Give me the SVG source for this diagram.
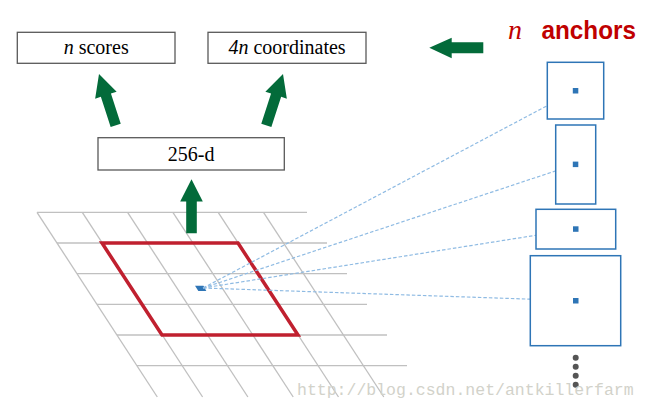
<svg xmlns="http://www.w3.org/2000/svg" width="647" height="410" viewBox="0 0 647 410">
<defs>
<style>
.box{fill:#fff;stroke:#595959;stroke-width:1.3}
.lbl{font-family:Liberation Serif;font-size:20px;fill:#000;text-anchor:middle}
.grid{stroke:#c0c0c0;stroke-width:1.3;fill:none}
.anc{fill:#fff;stroke:#2e75b6;stroke-width:1.5}
.dot{fill:#2e75b6}
.dash{stroke:#8fbbe3;stroke-width:1.2;stroke-dasharray:3.5 2;fill:none}
.garrow{fill:#036b3a}
</style>
<path id="uparrow" d="M0,0 L11.3,22.3 L5.3,22.3 L5.3,54 L-5.3,54 L-5.3,22.3 L-11.3,22.3 Z"/>
</defs>
<rect width="647" height="410" fill="#fff"/>

<g id="grid">
<line class="grid" x1="37" y1="212.3" x2="307" y2="212.3"/>
<line class="grid" x1="57" y1="243" x2="327" y2="243"/>
<line class="grid" x1="77" y1="273.7" x2="347" y2="273.7"/>
<line class="grid" x1="97" y1="304.3" x2="367" y2="304.3"/>
<line class="grid" x1="117" y1="335" x2="387" y2="335"/>
<line class="grid" x1="137" y1="365.7" x2="407" y2="365.7"/>
<line class="grid" x1="37" y1="212.3" x2="157.3" y2="397"/>
<line class="grid" x1="82.3" y1="212.3" x2="202.6" y2="397"/>
<line class="grid" x1="127.6" y1="212.3" x2="247.9" y2="397"/>
<line class="grid" x1="172.9" y1="212.3" x2="293.2" y2="397"/>
<line class="grid" x1="218.2" y1="212.3" x2="338.5" y2="397"/>
<line class="grid" x1="263.5" y1="212.3" x2="383.8" y2="397"/>
</g>

<g id="window">
<polygon points="102,243 238,243 298,335 162,335" fill="none" stroke="#c0202f" stroke-width="3.5" stroke-linejoin="miter"/>
<polygon points="195,285.8 203.5,285.8 206.3,291 198.3,291" class="dot"/>
</g>

<g id="connectors">
<line class="dash" x1="203" y1="288" x2="575.5" y2="90.7"/>
<line class="dash" x1="203" y1="288" x2="575.5" y2="164.3"/>
<line class="dash" x1="203" y1="288" x2="575.5" y2="229"/>
<line class="dash" x1="203" y1="288" x2="575.5" y2="300.7"/>
<use href="#uparrow" class="garrow" transform="translate(191.5,179.3)"/>
<use href="#uparrow" class="garrow" transform="translate(99,74) rotate(-18)"/>
<use href="#uparrow" class="garrow" transform="translate(283,74) rotate(18)"/>
<path class="garrow" d="M429.3,47.7 L451.7,37.7 L451.7,42.3 L483.3,42.3 L483.3,53.3 L451.7,53.3 L451.7,58.3 Z"/>
</g>

<g id="scores">
<rect class="box" x="17.3" y="32.3" width="157.7" height="31"/>
<text class="lbl" x="96.2" y="54"><tspan font-style="italic">n</tspan> scores</text>
</g>
<g id="coords">
<rect class="box" x="208" y="32.3" width="158" height="31"/>
<text class="lbl" x="287" y="54"><tspan font-style="italic">4n</tspan> coordinates</text>
</g>
<g id="feat">
<rect class="box" x="98" y="137.7" width="186.3" height="32.3"/>
<text class="lbl" x="191.2" y="161">256-d</text>
</g>

<g id="anchors-title">
<text x="508" y="39" fill="#c00000" font-family="Liberation Serif" font-style="italic" font-size="28">n</text>
<text x="541.5" y="39" fill="#c00000" font-family="Liberation Sans" font-weight="bold" font-size="25" textLength="94.5" lengthAdjust="spacingAndGlyphs">anchors</text>
</g>

<g id="anchor1">
<rect class="anc" x="547.3" y="62.3" width="56.4" height="56.7"/>
<rect class="dot" x="572.8" y="88" width="5.5" height="5.5"/>
</g>
<g id="anchor2">
<rect class="anc" x="555.7" y="125" width="40" height="79"/>
<rect class="dot" x="572.8" y="161.6" width="5.5" height="5.5"/>
</g>
<g id="anchor3">
<rect class="anc" x="536" y="209.3" width="79.7" height="39.7"/>
<rect class="dot" x="573" y="226.3" width="5.5" height="5.5"/>
</g>
<g id="anchor4">
<rect class="anc" x="530.3" y="255.7" width="90.4" height="90"/>
<rect class="dot" x="573" y="298" width="5.5" height="5.5"/>
</g>
<g id="ellipsis" fill="#555">
<circle cx="575.7" cy="357.7" r="3"/>
<circle cx="575.7" cy="366.7" r="3"/>
<circle cx="575.7" cy="375.7" r="3"/>
<circle cx="575.7" cy="384.7" r="3"/>
</g>

<text x="297" y="395" font-family="Liberation Mono" font-size="16.5" fill="#d2d2ca">http://blog.csdn.net/antkillerfarm</text>
</svg>
